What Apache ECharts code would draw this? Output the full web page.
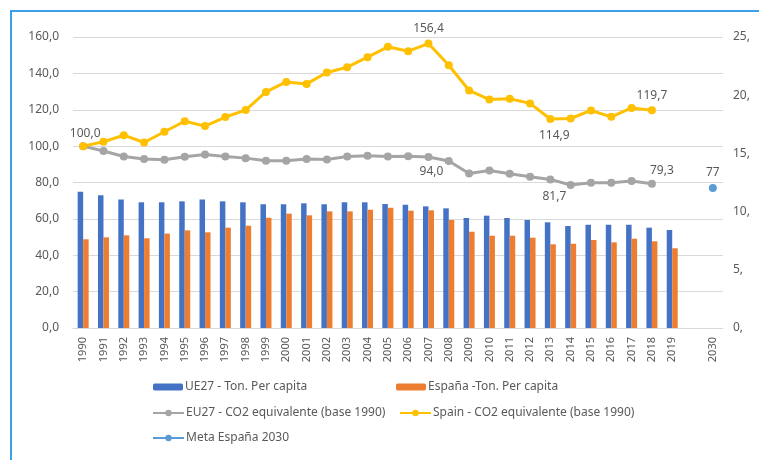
<!DOCTYPE html>
<html>
<head>
<meta charset="utf-8">
<style>
  html, body { margin: 0; padding: 0; background: #fff; }
  #main { width: 759px; height: 460px; }
</style>
<script src="https://cdn.jsdelivr.net/npm/echarts@6/dist/echarts.min.js"></script>
</head>
<body>
<div id="main"></div>
<script>
    // categorias: 1990-2019, hueco, 2030
    var years = ['1990','1991','1992','1993','1994','1995','1996','1997','1998','1999',
        '2000','2001','2002','2003','2004','2005','2006','2007','2008','2009',
        '2010','2011','2012','2013','2014','2015','2016','2017','2018','2019','','2030'];

    // toneladas per capita (eje derecho)
    var ue27Ton = [11.7, 11.4, 11.05, 10.8, 10.8, 10.88, 11.05, 10.88, 10.8, 10.63,
        10.63, 10.71, 10.63, 10.8, 10.8, 10.65, 10.59, 10.45, 10.28, 9.45,
        9.65, 9.45, 9.28, 9.08, 8.76, 8.87, 8.87, 8.87, 8.62, 8.42, null, null];
    var espanaTon = [7.62, 7.79, 7.96, 7.71, 8.11, 8.39, 8.22, 8.62, 8.79, 9.47,
        9.82, 9.68, 10.02, 10.02, 10.16, 10.33, 10.08, 10.11, 9.28, 8.27,
        7.93, 7.93, 7.76, 7.19, 7.24, 7.56, 7.36, 7.67, 7.45, 6.85, null, null];

    // CO2 equivalente base 1990 (eje izquierdo)
    var eu27Co2 = [100.0, 97.3, 94.3, 92.9, 92.5, 94.1, 95.4, 94.3, 93.4, 91.9,
        91.9, 92.9, 92.7, 94.3, 94.7, 94.3, 94.5, 94.0, 91.8, 85.0,
        86.6, 84.8, 83.2, 81.7, 78.6, 79.9, 79.9, 80.8, 79.3, null, null, null];
    var spainCo2 = [100.0, 102.4, 106.0, 102.0, 107.9, 113.7, 111.0, 116.0, 119.8, 129.8,
        135.3, 134.2, 140.5, 143.4, 148.9, 154.6, 152.2, 156.4, 144.5, 130.6,
        125.6, 126.0, 123.5, 114.9, 115.2, 119.6, 116.1, 121.0, 119.7, null, null, null];
    var meta2030 = [null, null, null, null, null, null, null, null, null, null,
        null, null, null, null, null, null, null, null, null, null,
        null, null, null, null, null, null, null, null, null, null, null, 77];

    var leftTicks = [0, 20, 40, 60, 80, 100, 120, 140, 160];

    var txtColor = '#595959';
    var fontFam = 'Noto Sans';

    function fmtComa(v) {
        return v.toFixed(1).replace('.', ',');
    }

    // etiquetas de datos: indice -> posicion
    function withLabels(arr, labels) {
        return arr.map(function (v, i) {
            if (labels[i] && v != null) {
                return {
                    value: v,
                    label: {
                        show: true,
                        position: labels[i].pos,
                        offset: labels[i].off || [0, 0],
                        color: txtColor,
                        fontFamily: fontFam,
                        fontSize: 12,
                        formatter: labels[i].fmt || function (p) { return fmtComa(p.value); }
                    }
                };
            }
            return v;
        });
    }

    var spainLabels = {0: {pos: 'top', off: [2, 2]}, 17: {pos: 'top'}, 23: {pos: 'bottom', off: [4, 2]}, 28: {pos: 'top'}};
    var euLabels = {17: {pos: 'bottom', off: [3, 0]}, 23: {pos: 'bottom', off: [4, 2]}, 28: {pos: 'top', off: [10, 2]}};
    var metaLabels = {31: {pos: 'top', fmt: function (p) { return String(p.value); }}};

    var myChart = echarts.init(document.getElementById('main'));

    function leg(name, left, top, w, h) {
        return {
            data: [name],
            left: left,
            top: top,
            itemWidth: w,
            itemHeight: h,
            itemGap: 0,
            padding: 0,
            textStyle: {color: txtColor, fontFamily: fontFam, fontSize: 12, padding: [0, 0, 0, -3]}
        };
    }

    var opt = {
        backgroundColor: '#fff',
        animation: false,
        graphic: [{
            type: 'rect',
            shape: {x: 11, y: 11, width: 800, height: 480},
            style: {fill: 'none', stroke: '#3aa0e8', lineWidth: 2}
        }],
        grid: {left: 73, right: 36, top: 37, bottom: 132},
        legend: [
            leg('UE27 - Ton. Per capita', 153, 381, 30, 7),
            leg('España -Ton. Per capita', 396, 381, 30, 7),
            leg('EU27 - CO2 equivalente (base 1990)', 152, 407, 31, 8),
            leg('Spain - CO2 equivalente (base 1990)', 399, 407, 31, 8),
            leg('Meta España 2030', 152, 432, 31, 8)
        ],
        xAxis: [{
            type: 'category',
            data: years,
            boundaryGap: true,
            axisLine: {show: true, lineStyle: {color: '#d9d9d9'}},
            axisTick: {show: false},
            axisLabel: {
                interval: 0,
                rotate: 90,
                color: txtColor,
                fontFamily: fontFam,
                fontSize: 11,
                margin: 9
            }
        }],
        yAxis: [{
            type: 'value',
            min: leftTicks[0],
            max: leftTicks[leftTicks.length - 1],
            interval: 20,
            axisLine: {show: false},
            axisTick: {show: false},
            splitLine: {lineStyle: {color: '#d9d9d9'}},
            axisLabel: {
                color: txtColor, fontFamily: fontFam, fontSize: 12, margin: 14,
                formatter: function (v) { return fmtComa(v); }
            }
        }, {
            type: 'value',
            min: 0,
            max: 25,
            interval: 5,
            axisLine: {show: false},
            axisTick: {show: false},
            splitLine: {show: false},
            axisLabel: {
                color: txtColor, fontFamily: fontFam, fontSize: 12, margin: 10,
                formatter: function (v) { return v + ','; }
            }
        }],
        series: [
            {
                name: 'UE27 - Ton. Per capita',
                type: 'bar',
                yAxisIndex: 1,
                data: ue27Ton,
                barWidth: 5.5,
                barGap: '0%',
                itemStyle: {color: '#4472c4'}
            },
            {
                name: 'España -Ton. Per capita',
                type: 'bar',
                yAxisIndex: 1,
                data: espanaTon,
                barWidth: 5.5,
                barGap: '0%',
                itemStyle: {color: '#ed7d31'}
            },
            {
                name: 'EU27 - CO2 equivalente (base 1990)',
                type: 'line',
                data: withLabels(eu27Co2, euLabels),
                symbol: 'circle',
                symbolSize: 8,
                lineStyle: {width: 3, color: '#a5a5a5'},
                itemStyle: {color: '#a5a5a5'}
            },
            {
                name: 'Spain - CO2 equivalente (base 1990)',
                type: 'line',
                data: withLabels(spainCo2, spainLabels),
                symbol: 'circle',
                symbolSize: 8,
                lineStyle: {width: 3, color: '#ffc000'},
                itemStyle: {color: '#ffc000'}
            },
            {
                name: 'Meta España 2030',
                type: 'line',
                data: withLabels(meta2030, metaLabels),
                symbol: 'circle',
                symbolSize: 8,
                lineStyle: {width: 3, color: '#5b9bd5'},
                itemStyle: {color: '#5b9bd5'}
            }
        ]
    };
    myChart.setOption(opt);
</script>
</body>
</html>
